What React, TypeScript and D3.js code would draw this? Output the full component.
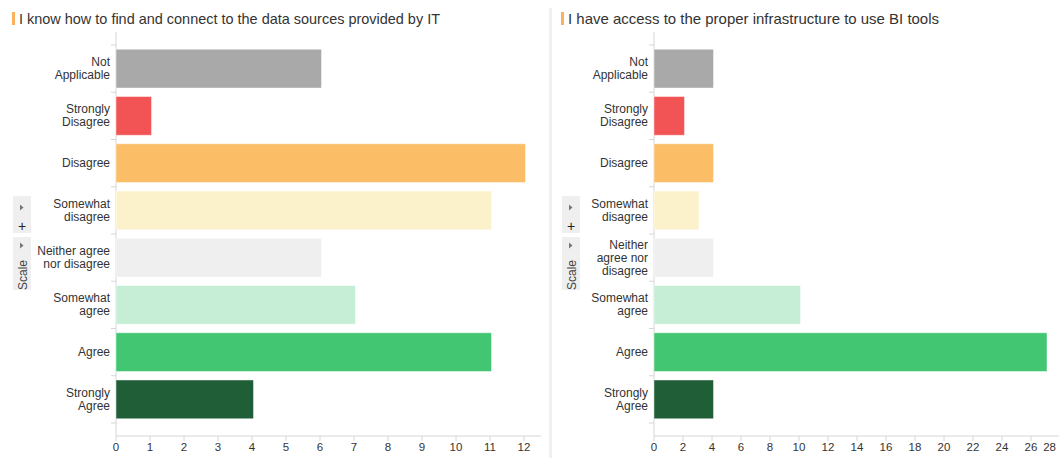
import React from "react";
import * as d3 from "d3";

const categories = ["Not Applicable", "Strongly Disagree", "Disagree", "Somewhat disagree", "Neither agree nor disagree", "Somewhat agree", "Agree", "Strongly Agree"];
const colors = ["#a9a9a9", "#f25354", "#fbbe67", "#fbf2cb", "#efefef", "#c6eed6", "#43c672", "#1f5e37"];

const leftTitle = "I know how to find and connect to the data sources provided by IT";
const leftValues = [6, 1, 12, 11, 6, 7, 11, 4];
const leftLabels = [["Not", "Applicable"], ["Strongly", "Disagree"], ["Disagree"], ["Somewhat", "disagree"], ["Neither agree", "nor disagree"], ["Somewhat", "agree"], ["Agree"], ["Strongly", "Agree"]];
const leftTicks = [0, 1, 2, 3, 4, 5, 6, 7, 8, 9, 10, 11, 12];

const rightTitle = "I have access to the proper infrastructure to use BI tools";
const rightValues = [4, 2, 4, 3, 4, 10, 27, 4];
const rightLabels = [["Not", "Applicable"], ["Strongly", "Disagree"], ["Disagree"], ["Somewhat", "disagree"], ["Neither", "agree nor", "disagree"], ["Somewhat", "agree"], ["Agree"], ["Strongly", "Agree"]];
const rightTicks = [0, 2, 4, 6, 8, 10, 12, 14, 16, 18, 20, 22, 24, 26, 28];

const FONT = "'Liberation Sans', Arial, sans-serif";

type PanelProps = {
  title: string;
  titleWidth: number;
  values: number[];
  labels: string[][];
  ticks: number[];
  xMax: number;
  x0: number;
  x1: number;
  panelLeft: number;
};

function Panel({ title, titleWidth, values, labels, ticks, xMax, x0, x1, panelLeft }: PanelProps) {
  const x = d3.scaleLinear().domain([0, xMax]).range([x0, x1]);
  const y = d3.scaleBand<string>().domain(categories).range([45, 423]).paddingInner(0.18).paddingOuter(0.09);
  const step = y.step();
  const top = 32;
  const axisY = 436;
  const boundaries = d3.range(categories.length + 1).map((i) => 45 + i * step);
  const wx = panelLeft + 13;
  return (
    <g>
      <rect x={panelLeft + 12} y={12} width={3} height={13} fill="#fbb25e" />
      <text x={panelLeft + 19} y={24} fontSize={14.5} fill="#333" fontFamily={FONT} textLength={titleWidth} lengthAdjust="spacingAndGlyphs">{title}</text>
      {/* scale widget */}
      <rect x={wx} y={196} width={18} height={37} fill="#efefef" />
      <path d={`M${wx + 7},${204.5} L${wx + 10.5},${207.5} L${wx + 7},${210.5} Z`} fill="#777" />
      <text x={wx + 9} y={231} fontSize={14} textAnchor="middle" fill="#222" fontFamily={FONT}>+</text>
      <rect x={wx} y={237} width={18} height={53} fill="#efefef" />
      <path d={`M${wx + 7},${242.5} L${wx + 10.5},${245.5} L${wx + 7},${248.5} Z`} fill="#777" />
      <text transform={`translate(${wx + 13.5},${275}) rotate(-90)`} fontSize={12} textAnchor="middle" fill="#444" fontFamily={FONT}>Scale</text>
      {/* y axis */}
      <line x1={x0} x2={x0} y1={top} y2={axisY} stroke="#d6d6d6" />
      {boundaries.map((b, i) => (
        <line key={i} x1={x0 - 5} x2={x0} y1={b} y2={b} stroke="#d6d6d6" />
      ))}
      {/* bars */}
      {categories.map((c, i) => (
        <rect key={c} x={x(0)} y={y(c)!} width={x(values[i]) - x(0) + 1.5} height={y.bandwidth()} fill={colors[i]} stroke="rgba(255,255,255,0.45)" strokeWidth={1} />
      ))}
      {/* category labels */}
      {categories.map((c, i) => {
        const lines = labels[i];
        const cy = y(c)! + y.bandwidth() / 2;
        const lh = 13;
        const start = cy - ((lines.length - 1) * lh) / 2 + 4;
        return (
          <text key={c} textAnchor="end" fontSize={12} fill="#333" fontFamily={FONT}>
            {lines.map((l, j) => (
              <tspan key={j} x={x0 - 6} y={start + j * lh}>{l}</tspan>
            ))}
          </text>
        );
      })}
      {/* x axis */}
      <line x1={x0} x2={x1} y1={axisY} y2={axisY} stroke="#d6d6d6" />
      {ticks.map((t) => {
        const px = x(t);
        const near = px > 1050;
        return (
          <g key={t}>
            <line x1={px} x2={px} y1={axisY} y2={axisY + 5} stroke="#d6d6d6" />
            <text x={near ? 1056 : px} y={451} textAnchor={near ? "end" : "middle"} fontSize={11.5} fill="#333" fontFamily={FONT}>{t}</text>
          </g>
        );
      })}
    </g>
  );
}

export default function App() {
  return (
    <svg width={1059} height={458} style={{ position: "absolute", left: 0, top: 0, background: "#fff" }}>
      <rect x={0} y={0} width={1059} height={458} fill="#fff" />
      <rect x={549} y={8} width={3} height={450} fill="#f0f0f0" />
      <Panel title={leftTitle} titleWidth={421} values={leftValues} labels={leftLabels} ticks={leftTicks} xMax={12.5} x0={116} x1={541} panelLeft={0} />
      <Panel title={rightTitle} titleWidth={371} values={rightValues} labels={rightLabels} ticks={rightTicks} xMax={28} x0={654} x1={1060} panelLeft={549} />
    </svg>
  );
}
